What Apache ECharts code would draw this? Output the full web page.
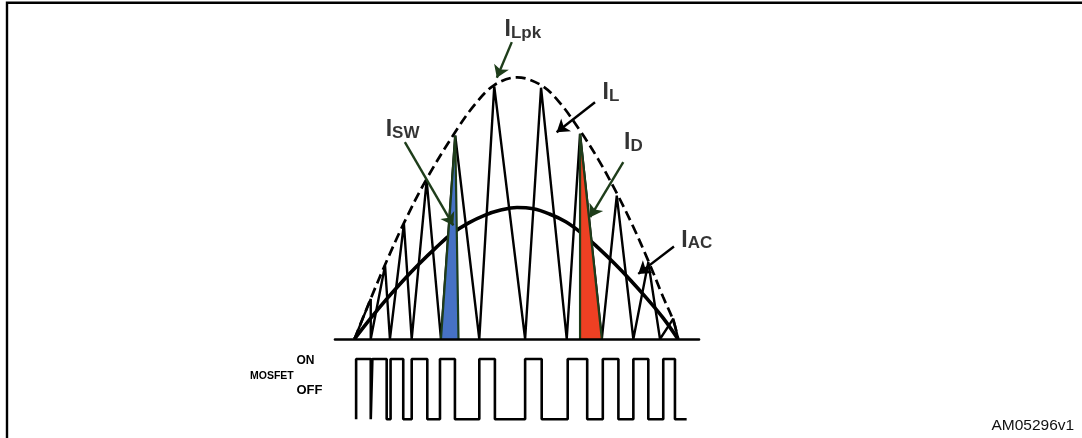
<!DOCTYPE html>
<html><head><meta charset="utf-8">
<script src="https://cdn.jsdelivr.net/npm/echarts@6/dist/echarts.min.js"></script>
<style>html,body{margin:0;padding:0;background:#fff}#c{width:1082px;height:438px}</style>
</head><body><div id="c"></div>
<script>
// ---- data (time in % of half line cycle, current in % of ILpk) ----
// Inductor current IL: triangle wave vertices
const ilTime    = [0, 5.0, 5.0, 9.4, 10.9, 15.2, 17.6, 22.2, 26.6, 31.0, 38.4, 43.0, 52.5, 57.4, 65.3, 69.4, 76.1, 80.7, 85.8, 90.4, 94.0, 98.1, 99.6];
const ilCurrent = [0, 15.4, 0, 28.2, 0, 44.2, 0, 60.9, 0, 78.1, 0, 97.0, 0, 96.5, 0, 78.8, 0, 55.1, 0, 29.5, 0, 7.8, 0];
// Peak envelope ILpk (dashed)
const envTime    = [0, 5, 9.4, 15.2, 22.2, 31, 37, 43, 50, 57.4, 63, 69.4, 75, 80.7, 85.8, 90.4, 95, 98.1, 99.6];
const envCurrent = [0, 15.5, 28.5, 44.5, 61.5, 79.5, 90, 97.5, 100.5, 97.5, 91, 80, 69, 56, 43, 30, 16, 7, 0];
// Input (average) current IAC
const iacTime    = [0, 5, 10, 15, 20, 25, 30, 35, 40, 45, 50, 55, 60, 65, 70, 75, 80, 85, 90, 95, 99.5];
const iacCurrent = [0, 8, 15.5, 22.5, 29, 35, 40.5, 44.5, 47.5, 49.5, 50.5, 50, 48, 45, 40.5, 35, 29, 22.5, 15.5, 8, 0];
// Switch current ISW pulse and diode current ID pulse
const iswTime    = [26.6, 31.0, 32.0];
const iswCurrent = [0, 78.1, 0];
const idTime     = [69.4, 69.4, 76.1];
const idCurrent  = [0, 78.8, 0];
// MOSFET gate signal (1 = ON, 0 = OFF)
const gateTime  = [0.5, 0.5, 5.0, 5.5, 9.9, 11.1, 15.0, 17.6, 22.4, 26.3, 30.9, 38.4, 43.2, 52.5, 57.6, 65.6, 71.6, 76.4, 81.2, 85.8, 90.4, 95.0, 98.6, 102.2];
const gateState = [0, 1, 0, 1, 0, 1, 0, 1, 0, 1, 0, 1, 0, 1, 0, 1, 0, 1, 0, 1, 0, 1, 0, 0];
// Labels
const labelMain    = ['I', 'I', 'I', 'I', 'I'];
const labelSub     = ['Lpk', 'L', 'SW', 'D', 'AC'];
const labelTime    = [51.8, 78.9, 14.8, 85.8, 105.3];
const labelCurrent = [118.7, 94.5, 80.3, 75.3, 37.8];
// Arrows (from -> to)
const arrowFromT = [48.4, 74.0, 15.5, 82.7, 98.3];
const arrowFromI = [114.0, 90.9, 75.6, 67.9, 35.5];
const arrowToT   = [43.8, 62.2, 30.4, 72.5, 87.3];
const arrowToI   = [100.3, 79.4, 43.6, 46.8, 25.0];

// ---- styles ----
const FONT = '"Liberation Sans", Arial, Helvetica, sans-serif';
const GREEN = '#1e3d1a';
const arrowColor = [GREEN, '#000', GREEN, GREEN, '#000'];
const zip = (a, b) => a.map((v, i) => [v, b[i]]);

const chart = echarts.init(document.getElementById('c'), null, {renderer: 'canvas'});
chart.setOption({
  animation: false,
  backgroundColor: '#fff',
  grid: [
    {left: 335, width: 364, top: 13.5, height: 325.5},
    {left: 335, width: 364, top: 359, height: 60.3}
  ],
  xAxis: [
    {gridIndex: 0, type: 'value', min: -6, max: 106, z: 5,
     axisLine: {show: true, onZero: true, lineStyle: {color: '#000', width: 2.6}},
     axisTick: {show: false}, axisLabel: {show: false}, splitLine: {show: false}},
    {gridIndex: 1, type: 'value', min: -6, max: 106, show: false}
  ],
  yAxis: [
    {gridIndex: 0, type: 'value', min: 0, max: 125, show: false},
    {gridIndex: 1, type: 'value', min: 0, max: 1, show: false}
  ],
  series: [
    {type: 'line', name: 'IAC', xAxisIndex: 0, yAxisIndex: 0, data: zip(iacTime, iacCurrent),
     smooth: 0.4, symbol: 'none', z: 2, lineStyle: {color: '#000', width: 3.6}},
    {type: 'line', name: 'ILpk', xAxisIndex: 0, yAxisIndex: 0, data: zip(envTime, envCurrent),
     smooth: 0.35, symbol: 'none', z: 2, lineStyle: {color: '#000', width: 2.7, type: [10, 5]}},
    {type: 'line', name: 'IL', xAxisIndex: 0, yAxisIndex: 0, data: zip(ilTime, ilCurrent),
     symbol: 'none', z: 3, lineStyle: {color: '#000', width: 2.4},
     markLine: {
       silent: true, animation: false, symbol: ['none', 'arrow'], symbolSize: 12,
       label: {show: false}, emphasis: {disabled: true},
       data: arrowFromT.map((t, i) => [
         {coord: [t, arrowFromI[i]], lineStyle: {color: arrowColor[i], width: 2.4, type: 'solid'}, itemStyle: {color: arrowColor[i]}},
         {coord: [arrowToT[i], arrowToI[i]]}
       ])
     }},
    {type: 'line', name: 'ISW', xAxisIndex: 0, yAxisIndex: 0, data: zip(iswTime, iswCurrent),
     symbol: 'none', z: 4, lineStyle: {color: GREEN, width: 2.2}, areaStyle: {color: '#4672c4', opacity: 1}},
    {type: 'line', name: 'ID', xAxisIndex: 0, yAxisIndex: 0, data: zip(idTime, idCurrent),
     symbol: 'none', z: 4, lineStyle: {color: GREEN, width: 2.2}, areaStyle: {color: '#ee4023', opacity: 1}},
    {type: 'scatter', name: 'labels', xAxisIndex: 0, yAxisIndex: 0, symbolSize: 0, z: 6, silent: true,
     data: labelTime.map((t, i) => ({value: [t, labelCurrent[i]],
       label: {formatter: '{a|' + labelMain[i] + '}{b|' + labelSub[i] + '}'}})),
     label: {show: true, position: 'inside', color: '#000',
       rich: {
         a: {fontSize: 23, fontWeight: 'bold', fontFamily: FONT, color: '#000', verticalAlign: 'bottom'},
         b: {fontSize: 17, fontWeight: 'bold', fontFamily: FONT, color: '#000', verticalAlign: 'bottom'}
       }}},
    {type: 'line', name: 'MOSFET', xAxisIndex: 1, yAxisIndex: 1, data: zip(gateTime, gateState),
     step: 'end', symbol: 'none', z: 3, clip: false, lineStyle: {color: '#000', width: 2.6}}
  ],
  graphic: [
    {type: 'polyline', z: 10, shape: {points: [[1082, 2.8], [7, 2.8], [7, 438]]},
     style: {stroke: '#000', lineWidth: 2.4, fill: null}},
    {type: 'text', x: 296.5, y: 361, style: {text: 'ON', font: 'bold 12px ' + FONT, fill: '#000', textAlign: 'left', textVerticalAlign: 'middle'}},
    {type: 'text', x: 250, y: 376.3, style: {text: 'MOSFET', font: 'bold 10.5px ' + FONT, fill: '#000', textAlign: 'left', textVerticalAlign: 'middle'}},
    {type: 'text', x: 296.5, y: 390.5, style: {text: 'OFF', font: 'bold 13px ' + FONT, fill: '#000', textAlign: 'left', textVerticalAlign: 'middle'}},
    {type: 'text', x: 991.5, y: 425.5, style: {text: 'AM05296v1', font: '15.5px ' + FONT, fill: '#111', textAlign: 'left', textVerticalAlign: 'middle'}}
  ]
});
</script>
</body></html>
